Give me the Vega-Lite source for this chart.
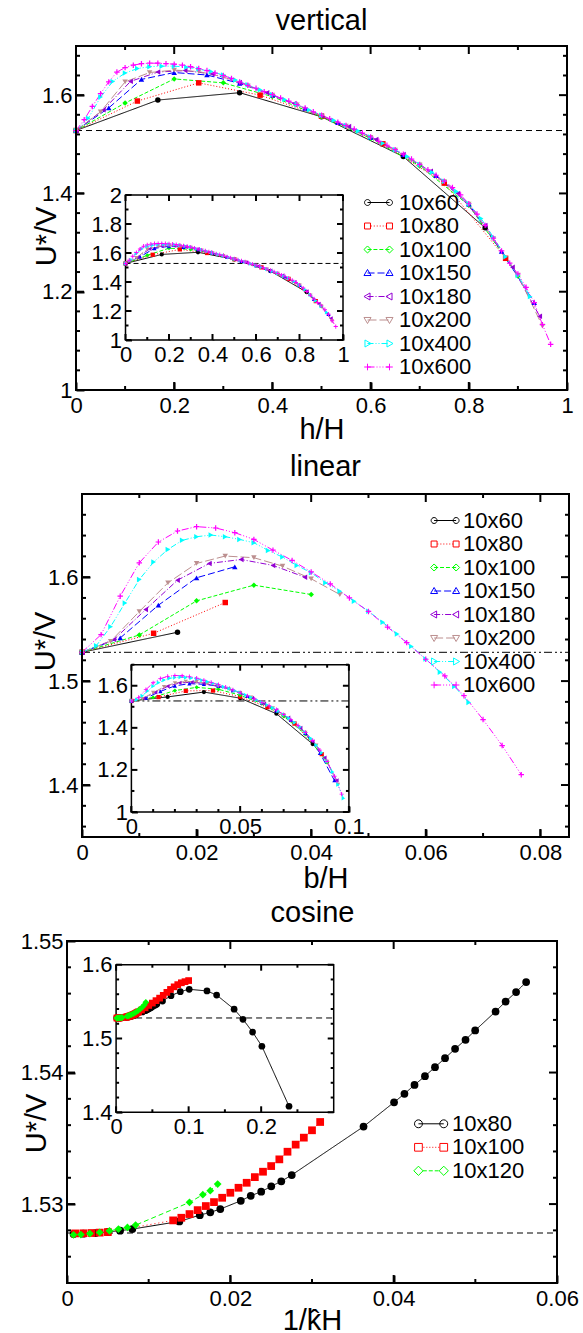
{
"$schema":"https://vega.github.io/schema/vega-lite/v6.json",
"background":"white",
"padding":{"left":20,"top":7,"right":0,"bottom":0},
"config":{
 "font":"Liberation Sans",
 "view":{"stroke":null},
 "axis":{"domain":false,"grid":false,"ticks":true,"labelFontSize":22,"labelColor":"black","labelFlush":false,"labelOverlap":false,"labelBound":false,"titleFontSize":29,"titleFontWeight":"normal","titleColor":"black","tickColor":"black","tickWidth":2,"zindex":2,"format":"~g"},
 "axisY":{"titleAngle":-90,"titleBaseline":"alphabetic","titleAlign":"center"},
 "axisX":{"titleBaseline":"alphabetic"},
 "title":{"fontSize":29,"fontWeight":"normal","color":"black","baseline":"alphabetic"},
 "legend":{"labelFontSize":22,"labelColor":"black","rowPadding":0.5}
},
"datasets":{
"v":[
{"s":"10x60","x":0,"y":1.528},{"s":"10x60","x":0.1667,"y":1.59},{"s":"10x60","x":0.3333,"y":1.605},{"s":"10x60","x":0.5,"y":1.556},{"s":"10x60","x":0.6667,"y":1.475},{"s":"10x60","x":0.8333,"y":1.33},
{"s":"10x80","x":0,"y":1.528},{"s":"10x80","x":0.125,"y":1.588},{"s":"10x80","x":0.25,"y":1.625},{"s":"10x80","x":0.375,"y":1.6},{"s":"10x80","x":0.5,"y":1.557},{"s":"10x80","x":0.625,"y":1.501},{"s":"10x80","x":0.75,"y":1.421},{"s":"10x80","x":0.875,"y":1.268},
{"s":"10x100","x":0,"y":1.528},{"s":"10x100","x":0.1,"y":1.584},{"s":"10x100","x":0.2,"y":1.633},{"s":"10x100","x":0.3,"y":1.625},{"s":"10x100","x":0.4,"y":1.597},{"s":"10x100","x":0.5,"y":1.556},{"s":"10x100","x":0.6,"y":1.512},{"s":"10x100","x":0.7,"y":1.456},{"s":"10x100","x":0.8,"y":1.376},{"s":"10x100","x":0.9,"y":1.232},
{"s":"10x150","x":0,"y":1.528},{"s":"10x150","x":0.0667,"y":1.574},{"s":"10x150","x":0.1333,"y":1.632},{"s":"10x150","x":0.2,"y":1.646},{"s":"10x150","x":0.2667,"y":1.641},{"s":"10x150","x":0.3333,"y":1.624},{"s":"10x150","x":0.4,"y":1.6},{"s":"10x150","x":0.4667,"y":1.573},{"s":"10x150","x":0.5333,"y":1.544},{"s":"10x150","x":0.6,"y":1.514},{"s":"10x150","x":0.6667,"y":1.479},{"s":"10x150","x":0.7333,"y":1.436},{"s":"10x150","x":0.8,"y":1.378},{"s":"10x150","x":0.8667,"y":1.282},{"s":"10x150","x":0.9333,"y":1.178},
{"s":"10x180","x":0,"y":1.528},{"s":"10x180","x":0.0556,"y":1.57},{"s":"10x180","x":0.1111,"y":1.628},{"s":"10x180","x":0.1667,"y":1.647},{"s":"10x180","x":0.2222,"y":1.65},{"s":"10x180","x":0.2778,"y":1.643},{"s":"10x180","x":0.3333,"y":1.626},{"s":"10x180","x":0.3889,"y":1.605},{"s":"10x180","x":0.4444,"y":1.583},{"s":"10x180","x":0.5,"y":1.558},{"s":"10x180","x":0.5556,"y":1.536},{"s":"10x180","x":0.6111,"y":1.51},{"s":"10x180","x":0.6667,"y":1.479},{"s":"10x180","x":0.7222,"y":1.445},{"s":"10x180","x":0.7778,"y":1.4},{"s":"10x180","x":0.8333,"y":1.335},{"s":"10x180","x":0.8889,"y":1.25},{"s":"10x180","x":0.9444,"y":1.15},
{"s":"10x200","x":0,"y":1.528},{"s":"10x200","x":0.05,"y":1.566},{"s":"10x200","x":0.1,"y":1.627},{"s":"10x200","x":0.15,"y":1.646},{"s":"10x200","x":0.2,"y":1.651},{"s":"10x200","x":0.25,"y":1.648},{"s":"10x200","x":0.3,"y":1.637},{"s":"10x200","x":0.35,"y":1.619},{"s":"10x200","x":0.4,"y":1.6},{"s":"10x200","x":0.45,"y":1.58},{"s":"10x200","x":0.5,"y":1.558},{"s":"10x200","x":0.55,"y":1.537},{"s":"10x200","x":0.6,"y":1.514},{"s":"10x200","x":0.65,"y":1.488},{"s":"10x200","x":0.7,"y":1.458},{"s":"10x200","x":0.75,"y":1.424},{"s":"10x200","x":0.8,"y":1.378},{"s":"10x200","x":0.85,"y":1.308},{"s":"10x200","x":0.9,"y":1.234},{"s":"10x200","x":0.95,"y":1.13},
{"s":"10x400","x":0,"y":1.528},{"s":"10x400","x":0.025,"y":1.553},{"s":"10x400","x":0.05,"y":1.596},{"s":"10x400","x":0.075,"y":1.628},{"s":"10x400","x":0.1,"y":1.645},{"s":"10x400","x":0.125,"y":1.654},{"s":"10x400","x":0.15,"y":1.658},{"s":"10x400","x":0.175,"y":1.659},{"s":"10x400","x":0.2,"y":1.659},{"s":"10x400","x":0.225,"y":1.657},{"s":"10x400","x":0.25,"y":1.653},{"s":"10x400","x":0.275,"y":1.648},{"s":"10x400","x":0.3,"y":1.641},{"s":"10x400","x":0.325,"y":1.631},{"s":"10x400","x":0.35,"y":1.621},{"s":"10x400","x":0.375,"y":1.611},{"s":"10x400","x":0.4,"y":1.601},{"s":"10x400","x":0.425,"y":1.591},{"s":"10x400","x":0.45,"y":1.581},{"s":"10x400","x":0.475,"y":1.57},{"s":"10x400","x":0.5,"y":1.559},{"s":"10x400","x":0.525,"y":1.549},{"s":"10x400","x":0.55,"y":1.538},{"s":"10x400","x":0.575,"y":1.527},{"s":"10x400","x":0.6,"y":1.515},{"s":"10x400","x":0.625,"y":1.502},{"s":"10x400","x":0.65,"y":1.489},{"s":"10x400","x":0.675,"y":1.475},{"s":"10x400","x":0.7,"y":1.459},{"s":"10x400","x":0.725,"y":1.443},{"s":"10x400","x":0.75,"y":1.425},{"s":"10x400","x":0.775,"y":1.404},{"s":"10x400","x":0.8,"y":1.379},{"s":"10x400","x":0.825,"y":1.349},{"s":"10x400","x":0.85,"y":1.311},{"s":"10x400","x":0.875,"y":1.271},{"s":"10x400","x":0.9,"y":1.233},{"s":"10x400","x":0.925,"y":1.19},
{"s":"10x600","x":0,"y":1.528},{"s":"10x600","x":0.0167,"y":1.55},{"s":"10x600","x":0.0333,"y":1.577},{"s":"10x600","x":0.05,"y":1.603},{"s":"10x600","x":0.0667,"y":1.627},{"s":"10x600","x":0.0833,"y":1.647},{"s":"10x600","x":0.1,"y":1.656},{"s":"10x600","x":0.1167,"y":1.661},{"s":"10x600","x":0.1333,"y":1.664},{"s":"10x600","x":0.15,"y":1.665},{"s":"10x600","x":0.1667,"y":1.665},{"s":"10x600","x":0.1833,"y":1.664},{"s":"10x600","x":0.2,"y":1.663},{"s":"10x600","x":0.2167,"y":1.661},{"s":"10x600","x":0.2333,"y":1.658},{"s":"10x600","x":0.25,"y":1.654},{"s":"10x600","x":0.2667,"y":1.65},{"s":"10x600","x":0.2833,"y":1.645},{"s":"10x600","x":0.3,"y":1.64},{"s":"10x600","x":0.3167,"y":1.634},{"s":"10x600","x":0.3333,"y":1.627},{"s":"10x600","x":0.35,"y":1.62},{"s":"10x600","x":0.3667,"y":1.614},{"s":"10x600","x":0.3833,"y":1.607},{"s":"10x600","x":0.4,"y":1.601},{"s":"10x600","x":0.4167,"y":1.594},{"s":"10x600","x":0.4333,"y":1.588},{"s":"10x600","x":0.45,"y":1.581},{"s":"10x600","x":0.4667,"y":1.574},{"s":"10x600","x":0.4833,"y":1.566},{"s":"10x600","x":0.5,"y":1.559},{"s":"10x600","x":0.5167,"y":1.552},{"s":"10x600","x":0.5333,"y":1.545},{"s":"10x600","x":0.55,"y":1.538},{"s":"10x600","x":0.5667,"y":1.531},{"s":"10x600","x":0.5833,"y":1.523},{"s":"10x600","x":0.6,"y":1.515},{"s":"10x600","x":0.6167,"y":1.506},{"s":"10x600","x":0.6333,"y":1.498},{"s":"10x600","x":0.65,"y":1.489},{"s":"10x600","x":0.6667,"y":1.48},{"s":"10x600","x":0.6833,"y":1.47},{"s":"10x600","x":0.7,"y":1.459},{"s":"10x600","x":0.7167,"y":1.448},{"s":"10x600","x":0.7333,"y":1.437},{"s":"10x600","x":0.75,"y":1.425},{"s":"10x600","x":0.7667,"y":1.412},{"s":"10x600","x":0.7833,"y":1.397},{"s":"10x600","x":0.8,"y":1.379},{"s":"10x600","x":0.8167,"y":1.358},{"s":"10x600","x":0.8333,"y":1.335},{"s":"10x600","x":0.85,"y":1.309},{"s":"10x600","x":0.8667,"y":1.283},{"s":"10x600","x":0.8833,"y":1.258},{"s":"10x600","x":0.9,"y":1.236},{"s":"10x600","x":0.9167,"y":1.209},{"s":"10x600","x":0.9333,"y":1.178},{"s":"10x600","x":0.95,"y":1.133},{"s":"10x600","x":0.9667,"y":1.093}
],
"l":[
{"s":"10x60","x":0,"y":1.5277,"m":1},{"s":"10x60","x":0.01667,"y":1.547,"m":1},{"s":"10x60","x":0.03333,"y":1.57,"m":0},{"s":"10x60","x":0.05,"y":1.541,"m":0},{"s":"10x60","x":0.06667,"y":1.467,"m":0},{"s":"10x60","x":0.08333,"y":1.323,"m":0},
{"s":"10x80","x":0,"y":1.5277,"m":1},{"s":"10x80","x":0.0125,"y":1.546,"m":1},{"s":"10x80","x":0.025,"y":1.5756,"m":1},{"s":"10x80","x":0.0375,"y":1.577,"m":0},{"s":"10x80","x":0.05,"y":1.548,"m":0},{"s":"10x80","x":0.0625,"y":1.498,"m":0},{"s":"10x80","x":0.075,"y":1.42,"m":0},{"s":"10x80","x":0.0875,"y":1.275,"m":0},
{"s":"10x100","x":0,"y":1.5277,"m":1},{"s":"10x100","x":0.01,"y":1.5444,"m":1},{"s":"10x100","x":0.02,"y":1.5772,"m":1},{"s":"10x100","x":0.03,"y":1.5923,"m":1},{"s":"10x100","x":0.04,"y":1.5833,"m":1},{"s":"10x100","x":0.05,"y":1.555,"m":0},{"s":"10x100","x":0.06,"y":1.515,"m":0},{"s":"10x100","x":0.07,"y":1.455,"m":0},{"s":"10x100","x":0.08,"y":1.37,"m":0},{"s":"10x100","x":0.09,"y":1.235,"m":0},
{"s":"10x150","x":0,"y":1.5277,"m":1},{"s":"10x150","x":0.00667,"y":1.5415,"m":1},{"s":"10x150","x":0.01333,"y":1.573,"m":1},{"s":"10x150","x":0.02,"y":1.5994,"m":1},{"s":"10x150","x":0.02667,"y":1.61,"m":1},{"s":"10x150","x":0.03333,"y":1.607,"m":0},{"s":"10x150","x":0.04,"y":1.598,"m":0},{"s":"10x150","x":0.04667,"y":1.578,"m":0},{"s":"10x150","x":0.05333,"y":1.551,"m":0},{"s":"10x150","x":0.06,"y":1.519,"m":0},{"s":"10x150","x":0.06667,"y":1.482,"m":0},{"s":"10x150","x":0.07333,"y":1.437,"m":0},{"s":"10x150","x":0.08,"y":1.375,"m":0},{"s":"10x150","x":0.08667,"y":1.28,"m":0},{"s":"10x150","x":0.09333,"y":1.15,"m":0},
{"s":"10x180","x":0,"y":1.5277,"m":1},{"s":"10x180","x":0.00556,"y":1.5399,"m":1},{"s":"10x180","x":0.01111,"y":1.5688,"m":1},{"s":"10x180","x":0.01667,"y":1.5971,"m":1},{"s":"10x180","x":0.02222,"y":1.6132,"m":1},{"s":"10x180","x":0.02778,"y":1.617,"m":1},{"s":"10x180","x":0.03333,"y":1.6113,"m":1},{"s":"10x180","x":0.03889,"y":1.6,"m":1},{"s":"10x180","x":0.04444,"y":1.587,"m":0},{"s":"10x180","x":0.05,"y":1.566,"m":0},{"s":"10x180","x":0.05556,"y":1.542,"m":0},{"s":"10x180","x":0.06111,"y":1.515,"m":0},{"s":"10x180","x":0.06667,"y":1.484,"m":0},{"s":"10x180","x":0.07222,"y":1.448,"m":0},{"s":"10x180","x":0.07778,"y":1.4,"m":0},{"s":"10x180","x":0.08333,"y":1.336,"m":0},{"s":"10x180","x":0.08889,"y":1.258,"m":0},{"s":"10x180","x":0.09444,"y":1.15,"m":0},
{"s":"10x200","x":0,"y":1.5277,"m":1},{"s":"10x200","x":0.005,"y":1.5383,"m":1},{"s":"10x200","x":0.01,"y":1.5669,"m":1},{"s":"10x200","x":0.015,"y":1.5945,"m":1},{"s":"10x200","x":0.02,"y":1.6132,"m":1},{"s":"10x200","x":0.025,"y":1.6203,"m":1},{"s":"10x200","x":0.03,"y":1.6187,"m":1},{"s":"10x200","x":0.035,"y":1.6106,"m":1},{"s":"10x200","x":0.04,"y":1.5984,"m":1},{"s":"10x200","x":0.045,"y":1.5833,"m":1},{"s":"10x200","x":0.05,"y":1.566,"m":0},{"s":"10x200","x":0.055,"y":1.545,"m":0},{"s":"10x200","x":0.06,"y":1.52,"m":0},{"s":"10x200","x":0.065,"y":1.494,"m":0},{"s":"10x200","x":0.07,"y":1.462,"m":0},{"s":"10x200","x":0.075,"y":1.424,"m":0},{"s":"10x200","x":0.08,"y":1.377,"m":0},{"s":"10x200","x":0.085,"y":1.317,"m":0},{"s":"10x200","x":0.09,"y":1.239,"m":0},{"s":"10x200","x":0.095,"y":1.13,"m":0},
{"s":"10x400","x":0,"y":1.5277,"m":1},{"s":"10x400","x":0.0025,"y":1.5341,"m":1},{"s":"10x400","x":0.005,"y":1.5524,"m":1},{"s":"10x400","x":0.0075,"y":1.5752,"m":1},{"s":"10x400","x":0.01,"y":1.5977,"m":1},{"s":"10x400","x":0.0125,"y":1.6145,"m":1},{"s":"10x400","x":0.015,"y":1.6267,"m":1},{"s":"10x400","x":0.0175,"y":1.6354,"m":1},{"s":"10x400","x":0.02,"y":1.6389,"m":1},{"s":"10x400","x":0.0225,"y":1.6405,"m":1},{"s":"10x400","x":0.025,"y":1.6389,"m":1},{"s":"10x400","x":0.0275,"y":1.6363,"m":1},{"s":"10x400","x":0.03,"y":1.6331,"m":1},{"s":"10x400","x":0.0325,"y":1.6257,"m":1},{"s":"10x400","x":0.035,"y":1.6193,"m":1},{"s":"10x400","x":0.0375,"y":1.6113,"m":1},{"s":"10x400","x":0.04,"y":1.6042,"m":1},{"s":"10x400","x":0.0425,"y":1.5945,"m":1},{"s":"10x400","x":0.045,"y":1.5865,"m":1},{"s":"10x400","x":0.0475,"y":1.5768,"m":1},{"s":"10x400","x":0.05,"y":1.5672,"m":1},{"s":"10x400","x":0.0525,"y":1.5566,"m":1},{"s":"10x400","x":0.055,"y":1.5453,"m":1},{"s":"10x400","x":0.0575,"y":1.5334,"m":1},{"s":"10x400","x":0.06,"y":1.5212,"m":1},{"s":"10x400","x":0.0625,"y":1.5084,"m":1},{"s":"10x400","x":0.065,"y":1.4949,"m":1},{"s":"10x400","x":0.0675,"y":1.4794,"m":1},{"s":"10x400","x":0.07,"y":1.463,"m":0},{"s":"10x400","x":0.0725,"y":1.445,"m":0},{"s":"10x400","x":0.075,"y":1.425,"m":0},{"s":"10x400","x":0.0775,"y":1.404,"m":0},{"s":"10x400","x":0.08,"y":1.378,"m":0},{"s":"10x400","x":0.0825,"y":1.35,"m":0},{"s":"10x400","x":0.085,"y":1.318,"m":0},{"s":"10x400","x":0.0875,"y":1.282,"m":0},{"s":"10x400","x":0.09,"y":1.24,"m":0},{"s":"10x400","x":0.0925,"y":1.19,"m":0},{"s":"10x400","x":0.095,"y":1.13,"m":0},{"s":"10x400","x":0.0975,"y":1.065,"m":0},
{"s":"10x600","x":0,"y":1.5277,"m":1},{"s":"10x600","x":0.00333,"y":1.5447,"m":1},{"s":"10x600","x":0.00667,"y":1.5817,"m":1},{"s":"10x600","x":0.01,"y":1.6138,"m":1},{"s":"10x600","x":0.01333,"y":1.6338,"m":1},{"s":"10x600","x":0.01667,"y":1.6444,"m":1},{"s":"10x600","x":0.02,"y":1.6486,"m":1},{"s":"10x600","x":0.02333,"y":1.6473,"m":1},{"s":"10x600","x":0.02667,"y":1.6428,"m":1},{"s":"10x600","x":0.03,"y":1.6363,"m":1},{"s":"10x600","x":0.03333,"y":1.626,"m":1},{"s":"10x600","x":0.03667,"y":1.6161,"m":1},{"s":"10x600","x":0.04,"y":1.605,"m":1},{"s":"10x600","x":0.04333,"y":1.5935,"m":1},{"s":"10x600","x":0.04667,"y":1.58,"m":1},{"s":"10x600","x":0.05,"y":1.567,"m":1},{"s":"10x600","x":0.05333,"y":1.552,"m":1},{"s":"10x600","x":0.05667,"y":1.537,"m":1},{"s":"10x600","x":0.06,"y":1.521,"m":1},{"s":"10x600","x":0.06333,"y":1.505,"m":1},{"s":"10x600","x":0.06667,"y":1.486,"m":1},{"s":"10x600","x":0.07,"y":1.463,"m":1},{"s":"10x600","x":0.07333,"y":1.438,"m":1},{"s":"10x600","x":0.07667,"y":1.41,"m":1},{"s":"10x600","x":0.08,"y":1.378,"m":0},{"s":"10x600","x":0.08333,"y":1.34,"m":0},{"s":"10x600","x":0.08667,"y":1.294,"m":0},{"s":"10x600","x":0.09,"y":1.24,"m":0},{"s":"10x600","x":0.09333,"y":1.17,"m":0},{"s":"10x600","x":0.09667,"y":1.085,"m":0}
],
"c":[
{"s":"10x80","x":0.0008,"y":1.52772,"m":1},{"s":"10x80","x":0.002,"y":1.52775,"m":1},{"s":"10x80","x":0.0035,"y":1.5278,"m":1},{"s":"10x80","x":0.005,"y":1.52788,"m":1},{"s":"10x80","x":0.0065,"y":1.52798,"m":1},{"s":"10x80","x":0.008,"y":1.5281,"m":1},{"s":"10x80","x":0.01376,"y":1.52868,"m":1},{"s":"10x80","x":0.01626,"y":1.52916,"m":1},{"s":"10x80","x":0.01754,"y":1.52937,"m":1},{"s":"10x80","x":0.01877,"y":1.52962,"m":1},{"s":"10x80","x":0.02128,"y":1.53025,"m":1},{"s":"10x80","x":0.0225,"y":1.53063,"m":1},{"s":"10x80","x":0.02378,"y":1.53094,"m":1},{"s":"10x80","x":0.02501,"y":1.53135,"m":1},{"s":"10x80","x":0.02624,"y":1.53173,"m":1},{"s":"10x80","x":0.02752,"y":1.53221,"m":1},{"s":"10x80","x":0.03631,"y":1.53589,"m":1},{"s":"10x80","x":0.04005,"y":1.53774,"m":1},{"s":"10x80","x":0.04132,"y":1.53838,"m":1},{"s":"10x80","x":0.04255,"y":1.53906,"m":1},{"s":"10x80","x":0.04383,"y":1.53972,"m":1},{"s":"10x80","x":0.04506,"y":1.54041,"m":1},{"s":"10x80","x":0.04629,"y":1.54109,"m":1},{"s":"10x80","x":0.04752,"y":1.5418,"m":1},{"s":"10x80","x":0.0488,"y":1.54249,"m":1},{"s":"10x80","x":0.04998,"y":1.5432,"m":1},{"s":"10x80","x":0.05248,"y":1.54464,"m":1},{"s":"10x80","x":0.05371,"y":1.5454,"m":1},{"s":"10x80","x":0.05499,"y":1.54612,"m":1},{"s":"10x80","x":0.05622,"y":1.54688,"m":1},
{"s":"10x80","x":0.064,"y":1.5507,"m":0},{"s":"10x80","x":0.0757,"y":1.558,"m":0},{"s":"10x80","x":0.0885,"y":1.5635,"m":0},{"s":"10x80","x":0.1008,"y":1.5667,"m":0},{"s":"10x80","x":0.1253,"y":1.5644,"m":0},{"s":"10x80","x":0.1386,"y":1.5589,"m":0},{"s":"10x80","x":0.1627,"y":1.5397,"m":0},{"s":"10x80","x":0.1749,"y":1.526,"m":0},{"s":"10x80","x":0.1882,"y":1.5087,"m":0},{"s":"10x80","x":0.201,"y":1.4895,"m":0},{"s":"10x80","x":0.2384,"y":1.4082,"m":0},
{"s":"10x100","x":0.001,"y":1.52777,"m":1},{"s":"10x100","x":0.002,"y":1.52778,"m":1},{"s":"10x100","x":0.003,"y":1.5278,"m":1},{"s":"10x100","x":0.004,"y":1.52783,"m":1},{"s":"10x100","x":0.005,"y":1.52787,"m":1},{"s":"10x100","x":0.013,"y":1.52876,"m":1},{"s":"10x100","x":0.014,"y":1.52896,"m":1},{"s":"10x100","x":0.015,"y":1.52924,"m":1},{"s":"10x100","x":0.016,"y":1.52954,"m":1},{"s":"10x100","x":0.017,"y":1.52985,"m":1},{"s":"10x100","x":0.018,"y":1.53015,"m":1},{"s":"10x100","x":0.019,"y":1.53048,"m":1},{"s":"10x100","x":0.02,"y":1.53086,"m":1},{"s":"10x100","x":0.021,"y":1.53124,"m":1},{"s":"10x100","x":0.022,"y":1.53162,"m":1},{"s":"10x100","x":0.023,"y":1.53205,"m":1},{"s":"10x100","x":0.024,"y":1.53246,"m":1},{"s":"10x100","x":0.025,"y":1.53289,"m":1},{"s":"10x100","x":0.026,"y":1.5334,"m":1},{"s":"10x100","x":0.027,"y":1.53398,"m":1},{"s":"10x100","x":0.028,"y":1.53452,"m":1},{"s":"10x100","x":0.029,"y":1.53505,"m":1},{"s":"10x100","x":0.03,"y":1.53561,"m":1},{"s":"10x100","x":0.031,"y":1.53624,"m":1},
{"s":"10x100","x":0.035,"y":1.5385,"m":0},{"s":"10x100","x":0.04,"y":1.5415,"m":0},{"s":"10x100","x":0.045,"y":1.5448,"m":0},{"s":"10x100","x":0.05,"y":1.548,"m":0},{"s":"10x100","x":0.055,"y":1.5513,"m":0},{"s":"10x100","x":0.06,"y":1.5547,"m":0},{"s":"10x100","x":0.065,"y":1.5585,"m":0},{"s":"10x100","x":0.07,"y":1.5625,"m":0},{"s":"10x100","x":0.075,"y":1.5665,"m":0},{"s":"10x100","x":0.08,"y":1.57,"m":0},{"s":"10x100","x":0.085,"y":1.573,"m":0},{"s":"10x100","x":0.09,"y":1.5755,"m":0},{"s":"10x100","x":0.095,"y":1.577,"m":0},{"s":"10x100","x":0.1,"y":1.5785,"m":0},
{"s":"10x120","x":0.0008,"y":1.52766,"m":1},{"s":"10x120","x":0.0017,"y":1.52768,"m":1},{"s":"10x120","x":0.0028,"y":1.52776,"m":1},{"s":"10x120","x":0.004,"y":1.52784,"m":1},{"s":"10x120","x":0.0052,"y":1.52797,"m":1},{"s":"10x120","x":0.0063,"y":1.5281,"m":1},{"s":"10x120","x":0.0074,"y":1.52822,"m":1},{"s":"10x120","x":0.0084,"y":1.5284,"m":1},{"s":"10x120","x":0.015,"y":1.53013,"m":1},{"s":"10x120","x":0.01663,"y":1.53071,"m":1},{"s":"10x120","x":0.01754,"y":1.53102,"m":1},{"s":"10x120","x":0.01845,"y":1.53152,"m":1},
{"s":"10x120","x":0.021,"y":1.5324,"m":0},{"s":"10x120","x":0.024,"y":1.5338,"m":0},{"s":"10x120","x":0.027,"y":1.5355,"m":0},{"s":"10x120","x":0.03,"y":1.5375,"m":0},{"s":"10x120","x":0.033,"y":1.5398,"m":0},{"s":"10x120","x":0.036,"y":1.5425,"m":0},{"s":"10x120","x":0.039,"y":1.5455,"m":0},{"s":"10x120","x":0.041,"y":1.549,"m":0}
]
},
"spacing":104,
"bounds":"flush",
"resolve":{"scale":{"x":"independent","y":"independent","fill":"independent","color":"independent","shape":"independent","stroke":"independent","strokeDash":"independent"},"legend":{"fill":"independent","color":"independent","shape":"independent","stroke":"independent","strokeDash":"independent"}},
"vconcat":[
{
"width":502,"height":344,
"title":{"text":"vertical","offset":9,"dx":3.5},
"resolve":{"scale":{"x":"independent","y":"independent","fill":"independent","color":"independent","shape":"independent","stroke":"independent","strokeDash":"independent"},"axis":{"x":"independent","y":"independent"},"legend":{"fill":"independent","color":"independent","shape":"independent","stroke":"independent","strokeDash":"independent"}},
"layer":[
 {"data":{"name":"v"},"layer":[
  {"data":{"values":[{}]},"mark":{"type":"rule","color":"black","strokeWidth":1,"strokeDash":[6,4]},"encoding":{"x":{"datum":0,"type":"quantitative"},"x2":{"datum":1},"y":{"datum":1.528,"type":"quantitative"}}},
  {"mark":{"type":"line","strokeWidth":1},"encoding":{
   "x":{"field":"x","type":"quantitative","scale":{"domain":[0,1],"range":[9,500],"nice":false,"zero":false},"axis":{"orient":"bottom","offset":-8,"tickSize":8,"labelPadding":5,"title":"h/H","titleY":56,"values":[0,0.2,0.4,0.6,0.8,1]}},
   "y":{"field":"y","type":"quantitative","scale":{"domain":[1,1.7],"nice":false,"zero":false},"axis":{"orient":"left","offset":-17,"tickSize":8,"labelPadding":4,"title":"U*/V","titleX":-29,"titleY":190,"values":[1,1.2,1.4,1.6]}},
   "stroke":{"field":"s","type":"nominal","scale":{"domain":["10x60","10x80","10x100","10x150","10x180","10x200","10x400","10x600"],"range":["#000000","#ff0000","#00ff00","#0000ff","#9400d3","#bc8f8f","#00ffff","#ff00ff"]},"legend":null},
   "strokeDash":{"field":"s","type":"nominal","scale":{"domain":["10x60","10x80","10x100","10x150","10x180","10x200","10x400","10x600"],"range":[[1,0],[1,2],[4,2],[7,3],[6,2,1,2],[9,3],[6,2,1,2,1,2],[7,2,1,2,1,2,1,2]]},"legend":null}
  }},
  {"mark":{"type":"point","filled":true,"size":30,"opacity":1},"encoding":{
   "x":{"field":"x","type":"quantitative"},
   "y":{"field":"y","type":"quantitative"},
   "color":{"field":"s","type":"nominal","scale":{"domain":["10x60","10x80","10x100","10x150","10x180","10x200","10x400","10x600"],"range":["#000000","#ff0000","#00ff00","#0000ff","#9400d3","#bc8f8f","#00ffff","#ff00ff"]},"legend":null},
   "shape":{"field":"s","type":"nominal","scale":{"domain":["10x60","10x80","10x100","10x150","10x180","10x200","10x400","10x600"],"range":["circle","square","diamond","triangle-up","triangle-left","triangle-down","triangle-right","M-1,-0.22H-0.22V-1H0.22V-0.22H1V0.22H0.22V1H-0.22V0.22H-1Z"]},"legend":null}
  }},
  {"data":{"values":[{}]},"mark":{"type":"rect","filled":false,"stroke":"black","strokeWidth":2},"encoding":{"x":{"datum":0,"type":"quantitative"},"x2":{"datum":1},"y":{"datum":1,"type":"quantitative"},"y2":{"datum":1.7}}},
  {"data":{"values":[{"t":0},{"t":0.2},{"t":0.4},{"t":0.6},{"t":0.8},{"t":1}]},"mark":{"type":"rule","color":"black","strokeWidth":2,"y2Offset":-8},"encoding":{"x":{"field":"t","type":"quantitative"},"y":{"datum":1,"type":"quantitative"},"y2":{"datum":1}}},
  {"data":{"values":[{"t":0},{"t":0.2},{"t":0.4},{"t":0.6},{"t":0.8},{"t":1}]},"mark":{"type":"rule","color":"black","strokeWidth":2,"y2Offset":8},"encoding":{"x":{"field":"t","type":"quantitative"},"y":{"datum":1.7,"type":"quantitative"},"y2":{"datum":1.7}}},
  {"data":{"values":[{"t":0.1},{"t":0.3},{"t":0.5},{"t":0.7},{"t":0.9}]},"mark":{"type":"rule","color":"black","strokeWidth":2,"y2Offset":-4},"encoding":{"x":{"field":"t","type":"quantitative"},"y":{"datum":1,"type":"quantitative"},"y2":{"datum":1}}},
  {"data":{"values":[{"t":0.1},{"t":0.3},{"t":0.5},{"t":0.7},{"t":0.9}]},"mark":{"type":"rule","color":"black","strokeWidth":2,"y2Offset":4},"encoding":{"x":{"field":"t","type":"quantitative"},"y":{"datum":1.7,"type":"quantitative"},"y2":{"datum":1.7}}},
  {"data":{"values":[{"t":1},{"t":1.2},{"t":1.4},{"t":1.6}]},"mark":{"type":"rule","color":"black","strokeWidth":2,"x2Offset":8},"encoding":{"y":{"field":"t","type":"quantitative"},"x":{"datum":0,"type":"quantitative"},"x2":{"datum":0}}},
  {"data":{"values":[{"t":1},{"t":1.2},{"t":1.4},{"t":1.6}]},"mark":{"type":"rule","color":"black","strokeWidth":2,"x2Offset":-8},"encoding":{"y":{"field":"t","type":"quantitative"},"x":{"datum":1,"type":"quantitative"},"x2":{"datum":1}}},
  {"data":{"values":[{"t":1.04},{"t":1.08},{"t":1.12},{"t":1.16},{"t":1.24},{"t":1.28},{"t":1.32},{"t":1.36},{"t":1.44},{"t":1.48},{"t":1.52},{"t":1.56},{"t":1.64},{"t":1.68}]},"mark":{"type":"rule","color":"black","strokeWidth":2,"x2Offset":4},"encoding":{"y":{"field":"t","type":"quantitative"},"x":{"datum":0,"type":"quantitative"},"x2":{"datum":0}}},
  {"data":{"values":[{"t":1.04},{"t":1.08},{"t":1.12},{"t":1.16},{"t":1.24},{"t":1.28},{"t":1.32},{"t":1.36},{"t":1.44},{"t":1.48},{"t":1.52},{"t":1.56},{"t":1.64},{"t":1.68}]},"mark":{"type":"rule","color":"black","strokeWidth":2,"x2Offset":-4},"encoding":{"y":{"field":"t","type":"quantitative"},"x":{"datum":1,"type":"quantitative"},"x2":{"datum":1}}}
 ]},
 {"data":{"name":"v"},"layer":[
  {"data":{"values":[{}]},"mark":{"type":"rect","fill":"white","stroke":"black","strokeWidth":1.5},"encoding":{"x":{"datum":0,"type":"quantitative"},"x2":{"datum":1},"y":{"datum":1,"type":"quantitative"},"y2":{"datum":2}}},
  {"data":{"values":[{}]},"mark":{"type":"rule","color":"black","strokeWidth":1,"strokeDash":[5,3]},"encoding":{"x":{"datum":0,"type":"quantitative"},"x2":{"datum":1},"y":{"datum":1.528,"type":"quantitative"}}},
  {"mark":{"type":"line","strokeWidth":1},"encoding":{
   "x":{"field":"x","type":"quantitative","scale":{"domain":[0,1],"range":[58.5,276],"nice":false,"zero":false},"axis":{"orient":"bottom","offset":-56,"tickSize":6,"labelPadding":4,"title":null,"values":[0,0.2,0.4,0.6,0.8,1]}},
   "y":{"field":"y","type":"quantitative","scale":{"domain":[1,2],"range":[294,149],"nice":false,"zero":false},"axis":{"orient":"left","offset":-64.5,"tickSize":6,"labelPadding":4,"title":null,"values":[1,1.2,1.4,1.6,1.8,2]}},
   "stroke":{"field":"s","type":"nominal","scale":{"domain":["10x60","10x80","10x100","10x150","10x180","10x200","10x400","10x600"],"range":["#000000","#ff0000","#00ff00","#0000ff","#9400d3","#bc8f8f","#00ffff","#ff00ff"]},"legend":null},
   "strokeDash":{"field":"s","type":"nominal","scale":{"domain":["10x60","10x80","10x100","10x150","10x180","10x200","10x400","10x600"],"range":[[1,0],[1,2],[4,2],[7,3],[6,2,1,2],[9,3],[6,2,1,2,1,2],[7,2,1,2,1,2,1,2]]},"legend":null}
  }},
  {"mark":{"type":"point","filled":true,"size":18,"opacity":1},"encoding":{
   "x":{"field":"x","type":"quantitative"},
   "y":{"field":"y","type":"quantitative"},
   "color":{"field":"s","type":"nominal","scale":{"domain":["10x60","10x80","10x100","10x150","10x180","10x200","10x400","10x600"],"range":["#000000","#ff0000","#00ff00","#0000ff","#9400d3","#bc8f8f","#00ffff","#ff00ff"]},"legend":null},
   "shape":{"field":"s","type":"nominal","scale":{"domain":["10x60","10x80","10x100","10x150","10x180","10x200","10x400","10x600"],"range":["circle","square","diamond","triangle-up","triangle-left","triangle-down","triangle-right","M-1,-0.22H-0.22V-1H0.22V-0.22H1V0.22H0.22V1H-0.22V0.22H-1Z"]},"legend":null}
  }},
  {"data":{"values":[{"t":0},{"t":0.2},{"t":0.4},{"t":0.6},{"t":0.8},{"t":1}]},"mark":{"type":"rule","color":"black","strokeWidth":2,"y2Offset":-6},"encoding":{"x":{"field":"t","type":"quantitative"},"y":{"datum":1,"type":"quantitative"},"y2":{"datum":1}}},
  {"data":{"values":[{"t":0},{"t":0.2},{"t":0.4},{"t":0.6},{"t":0.8},{"t":1}]},"mark":{"type":"rule","color":"black","strokeWidth":2,"y2Offset":6},"encoding":{"x":{"field":"t","type":"quantitative"},"y":{"datum":2,"type":"quantitative"},"y2":{"datum":2}}},
  {"data":{"values":[{"t":0.1},{"t":0.3},{"t":0.5},{"t":0.7},{"t":0.9}]},"mark":{"type":"rule","color":"black","strokeWidth":2,"y2Offset":-3},"encoding":{"x":{"field":"t","type":"quantitative"},"y":{"datum":1,"type":"quantitative"},"y2":{"datum":1}}},
  {"data":{"values":[{"t":0.1},{"t":0.3},{"t":0.5},{"t":0.7},{"t":0.9}]},"mark":{"type":"rule","color":"black","strokeWidth":2,"y2Offset":3},"encoding":{"x":{"field":"t","type":"quantitative"},"y":{"datum":2,"type":"quantitative"},"y2":{"datum":2}}},
  {"data":{"values":[{"t":1},{"t":1.2},{"t":1.4},{"t":1.6},{"t":1.8},{"t":2}]},"mark":{"type":"rule","color":"black","strokeWidth":2,"x2Offset":6},"encoding":{"y":{"field":"t","type":"quantitative"},"x":{"datum":0,"type":"quantitative"},"x2":{"datum":0}}},
  {"data":{"values":[{"t":1},{"t":1.2},{"t":1.4},{"t":1.6},{"t":1.8},{"t":2}]},"mark":{"type":"rule","color":"black","strokeWidth":2,"x2Offset":-6},"encoding":{"y":{"field":"t","type":"quantitative"},"x":{"datum":1,"type":"quantitative"},"x2":{"datum":1}}},
  {"data":{"values":[{"t":1.1},{"t":1.3},{"t":1.5},{"t":1.7},{"t":1.9}]},"mark":{"type":"rule","color":"black","strokeWidth":2,"x2Offset":3},"encoding":{"y":{"field":"t","type":"quantitative"},"x":{"datum":0,"type":"quantitative"},"x2":{"datum":0}}},
  {"data":{"values":[{"t":1.1},{"t":1.3},{"t":1.5},{"t":1.7},{"t":1.9}]},"mark":{"type":"rule","color":"black","strokeWidth":2,"x2Offset":-3},"encoding":{"y":{"field":"t","type":"quantitative"},"x":{"datum":1,"type":"quantitative"},"x2":{"datum":1}}}
 ]},
 {"data":{"name":"v"},"mark":{"type":"point","filled":true,"opacity":0},"encoding":{
  "fill":{"field":"s","type":"nominal","scale":{"domain":["10x60","10x80","10x100","10x150","10x180","10x200","10x400","10x600"],"range":["#000000","#ff0000","#00ff00","#0000ff","#9400d3","#bc8f8f","#00ffff","#ff00ff"]},"legend":{"orient":"none","legendX":300,"legendY":145,"title":null,"symbolSize":484,"symbolOpacity":1,"symbolStrokeWidth":1,"labelOffset":9}},
  "stroke":{"field":"s","type":"nominal","scale":{"domain":["10x60","10x80","10x100","10x150","10x180","10x200","10x400","10x600"],"range":["#000000","#ff0000","#00ff00","#0000ff","#9400d3","#bc8f8f","#00ffff","#ff00ff"]}},
  "shape":{"field":"s","type":"nominal","scale":{"domain":["10x60","10x80","10x100","10x150","10x180","10x200","10x400","10x600"],"range":["M-1,0H1M-1.27,0a0.27,0.27 0 1,0 0.54,0a0.27,0.27 0 1,0 -0.54,0ZM0.73,0a0.27,0.27 0 1,0 0.54,0a0.27,0.27 0 1,0 -0.54,0Z","M-0.7,0H-0.61M-0.43,0H-0.34M-0.16,0H-0.07M0.11,0H0.2M0.38,0H0.47M0.65,0H0.73M-1.27,-0.27h0.54v0.54h-0.54ZM0.73,-0.27h0.54v0.54h-0.54Z","M-1,0H-0.64M-0.46,0H-0.1M0.08,0H0.44M0.62,0H1M-1,-0.32l0.32,0.32l-0.32,0.32l-0.32,-0.32ZM1,-0.32l0.32,0.32l-0.32,0.32l-0.32,-0.32Z","M-1,0H-0.36M-0.09,0H0.55M0.82,0H1M-1,-0.32l0.32,0.55h-0.64ZM1,-0.32l0.32,0.55h-0.64Z","M-1,0H-0.45M-0.27,0H-0.18M0,0H0.55M0.73,0H0.82M-1.32,0l0.55,-0.32v0.64ZM0.68,0l0.55,-0.32v0.64Z","M-1,0H-0.18M0.09,0H0.91M-1,0.32l0.32,-0.55h-0.64ZM1,0.32l0.32,-0.55h-0.64Z","M-1,0H-0.45M-0.27,0H-0.18M0,0H0.09M0.27,0H0.82M-0.68,0l-0.55,-0.32v0.64ZM1.32,0l-0.55,-0.32v0.64Z","M-1,0H-0.36M-0.18,0H-0.09M0.09,0H0.18M0.36,0H0.45M0.64,0H1M-1.3,0H-0.7M-1,-0.3V0.3M0.7,0H1.3M1,-0.3V0.3"]}}
 }}
]
},
{
"width":502,"height":343,
"title":{"text":"linear","offset":11,"dx":7.5},
"resolve":{"scale":{"x":"independent","y":"independent","fill":"independent","color":"independent","shape":"independent","stroke":"independent","strokeDash":"independent"},"axis":{"x":"independent","y":"independent"},"legend":{"fill":"independent","color":"independent","shape":"independent","stroke":"independent","strokeDash":"independent"}},
"layer":[
 {"data":{"name":"l"},"layer":[
  {"data":{"values":[{}]},"mark":{"type":"rule","color":"black","strokeWidth":1,"strokeDash":[8,3,2,3,2,3]},"encoding":{"x":{"datum":0,"type":"quantitative"},"x2":{"datum":0.085},"y":{"datum":1.5277,"type":"quantitative"}}},
  {"transform":[{"filter":"datum.m==1"}],"mark":{"type":"line","strokeWidth":1},"encoding":{
   "x":{"field":"x","type":"quantitative","scale":{"domain":[0,0.085],"range":[15,502],"nice":false,"zero":false},"axis":{"orient":"bottom","offset":-8,"tickSize":8,"labelPadding":5,"title":"b/H","titleY":58,"values":[0,0.02,0.04,0.06,0.08]}},
   "y":{"field":"y","type":"quantitative","scale":{"domain":[1.35,1.68],"nice":false,"zero":false},"axis":{"orient":"left","offset":-23,"tickSize":8,"labelPadding":4,"title":"U*/V","titleX":-35.2,"titleY":147,"values":[1.4,1.5,1.6]}},
   "stroke":{"field":"s","type":"nominal","scale":{"domain":["10x60","10x80","10x100","10x150","10x180","10x200","10x400","10x600"],"range":["#000000","#ff0000","#00ff00","#0000ff","#9400d3","#bc8f8f","#00ffff","#ff00ff"]},"legend":null},
   "strokeDash":{"field":"s","type":"nominal","scale":{"domain":["10x60","10x80","10x100","10x150","10x180","10x200","10x400","10x600"],"range":[[1,0],[1,2],[4,2],[7,3],[6,2,1,2],[9,3],[6,2,1,2,1,2],[7,2,1,2,1,2,1,2]]},"legend":null}
  }},
  {"transform":[{"filter":"datum.m==1"}],"mark":{"type":"point","filled":true,"size":30,"opacity":1},"encoding":{
   "x":{"field":"x","type":"quantitative"},
   "y":{"field":"y","type":"quantitative"},
   "color":{"field":"s","type":"nominal","scale":{"domain":["10x60","10x80","10x100","10x150","10x180","10x200","10x400","10x600"],"range":["#000000","#ff0000","#00ff00","#0000ff","#9400d3","#bc8f8f","#00ffff","#ff00ff"]},"legend":null},
   "shape":{"field":"s","type":"nominal","scale":{"domain":["10x60","10x80","10x100","10x150","10x180","10x200","10x400","10x600"],"range":["circle","square","diamond","triangle-up","triangle-left","triangle-down","triangle-right","M-1,-0.22H-0.22V-1H0.22V-0.22H1V0.22H0.22V1H-0.22V0.22H-1Z"]},"legend":null}
  }},
  {"data":{"values":[{}]},"mark":{"type":"rect","filled":false,"stroke":"black","strokeWidth":2},"encoding":{"x":{"datum":0,"type":"quantitative"},"x2":{"datum":0.085},"y":{"datum":1.35,"type":"quantitative"},"y2":{"datum":1.68}}},
  {"data":{"values":[{"t":0},{"t":0.02},{"t":0.04},{"t":0.06},{"t":0.08}]},"mark":{"type":"rule","color":"black","strokeWidth":2,"y2Offset":-8},"encoding":{"x":{"field":"t","type":"quantitative"},"y":{"datum":1.35,"type":"quantitative"},"y2":{"datum":1.35}}},
  {"data":{"values":[{"t":0},{"t":0.02},{"t":0.04},{"t":0.06},{"t":0.08}]},"mark":{"type":"rule","color":"black","strokeWidth":2,"y2Offset":8},"encoding":{"x":{"field":"t","type":"quantitative"},"y":{"datum":1.68,"type":"quantitative"},"y2":{"datum":1.68}}},
  {"data":{"values":[{"t":0.01},{"t":0.03},{"t":0.05},{"t":0.07}]},"mark":{"type":"rule","color":"black","strokeWidth":2,"y2Offset":-4},"encoding":{"x":{"field":"t","type":"quantitative"},"y":{"datum":1.35,"type":"quantitative"},"y2":{"datum":1.35}}},
  {"data":{"values":[{"t":0.01},{"t":0.03},{"t":0.05},{"t":0.07}]},"mark":{"type":"rule","color":"black","strokeWidth":2,"y2Offset":4},"encoding":{"x":{"field":"t","type":"quantitative"},"y":{"datum":1.68,"type":"quantitative"},"y2":{"datum":1.68}}},
  {"data":{"values":[{"t":1.4},{"t":1.5},{"t":1.6}]},"mark":{"type":"rule","color":"black","strokeWidth":2,"x2Offset":8},"encoding":{"y":{"field":"t","type":"quantitative"},"x":{"datum":0,"type":"quantitative"},"x2":{"datum":0}}},
  {"data":{"values":[{"t":1.4},{"t":1.5},{"t":1.6}]},"mark":{"type":"rule","color":"black","strokeWidth":2,"x2Offset":-8},"encoding":{"y":{"field":"t","type":"quantitative"},"x":{"datum":0.085,"type":"quantitative"},"x2":{"datum":0.085}}},
  {"data":{"values":[{"t":1.36},{"t":1.38},{"t":1.42},{"t":1.44},{"t":1.46},{"t":1.48},{"t":1.52},{"t":1.54},{"t":1.56},{"t":1.58},{"t":1.62},{"t":1.64},{"t":1.66}]},"mark":{"type":"rule","color":"black","strokeWidth":2,"x2Offset":4},"encoding":{"y":{"field":"t","type":"quantitative"},"x":{"datum":0,"type":"quantitative"},"x2":{"datum":0}}},
  {"data":{"values":[{"t":1.36},{"t":1.38},{"t":1.42},{"t":1.44},{"t":1.46},{"t":1.48},{"t":1.52},{"t":1.54},{"t":1.56},{"t":1.58},{"t":1.62},{"t":1.64},{"t":1.66}]},"mark":{"type":"rule","color":"black","strokeWidth":2,"x2Offset":-4},"encoding":{"y":{"field":"t","type":"quantitative"},"x":{"datum":0.085,"type":"quantitative"},"x2":{"datum":0.085}}}
 ]},
 {"data":{"name":"l"},"layer":[
  {"data":{"values":[{}]},"mark":{"type":"rect","fill":"white","stroke":"black","strokeWidth":1.5},"encoding":{"x":{"datum":0,"type":"quantitative"},"x2":{"datum":0.1},"y":{"datum":1,"type":"quantitative"},"y2":{"datum":1.7}}},
  {"data":{"values":[{}]},"mark":{"type":"rule","color":"black","strokeWidth":1,"strokeDash":[8,3,2,3,2,3]},"encoding":{"x":{"datum":0,"type":"quantitative"},"x2":{"datum":0.1},"y":{"datum":1.5277,"type":"quantitative"}}},
  {"mark":{"type":"line","strokeWidth":1},"encoding":{
   "x":{"field":"x","type":"quantitative","scale":{"domain":[0,0.1],"range":[64.4,281.9],"nice":false,"zero":false},"axis":{"orient":"bottom","offset":-31,"tickSize":6,"labelPadding":4,"title":null,"values":[0,0.05,0.1]}},
   "y":{"field":"y","type":"quantitative","scale":{"domain":[1,1.7],"range":[318,170.7],"nice":false,"zero":false},"axis":{"orient":"left","offset":-70.4,"tickSize":6,"labelPadding":4,"title":null,"values":[1,1.2,1.4,1.6]}},
   "stroke":{"field":"s","type":"nominal","scale":{"domain":["10x60","10x80","10x100","10x150","10x180","10x200","10x400","10x600"],"range":["#000000","#ff0000","#00ff00","#0000ff","#9400d3","#bc8f8f","#00ffff","#ff00ff"]},"legend":null},
   "strokeDash":{"field":"s","type":"nominal","scale":{"domain":["10x60","10x80","10x100","10x150","10x180","10x200","10x400","10x600"],"range":[[1,0],[1,2],[4,2],[7,3],[6,2,1,2],[9,3],[6,2,1,2,1,2],[7,2,1,2,1,2,1,2]]},"legend":null}
  }},
  {"mark":{"type":"point","filled":true,"size":18,"opacity":1},"encoding":{
   "x":{"field":"x","type":"quantitative"},
   "y":{"field":"y","type":"quantitative"},
   "color":{"field":"s","type":"nominal","scale":{"domain":["10x60","10x80","10x100","10x150","10x180","10x200","10x400","10x600"],"range":["#000000","#ff0000","#00ff00","#0000ff","#9400d3","#bc8f8f","#00ffff","#ff00ff"]},"legend":null},
   "shape":{"field":"s","type":"nominal","scale":{"domain":["10x60","10x80","10x100","10x150","10x180","10x200","10x400","10x600"],"range":["circle","square","diamond","triangle-up","triangle-left","triangle-down","triangle-right","M-1,-0.22H-0.22V-1H0.22V-0.22H1V0.22H0.22V1H-0.22V0.22H-1Z"]},"legend":null}
  }},
  {"data":{"values":[{"t":0},{"t":0.05},{"t":0.1}]},"mark":{"type":"rule","color":"black","strokeWidth":2,"y2Offset":-6},"encoding":{"x":{"field":"t","type":"quantitative"},"y":{"datum":1,"type":"quantitative"},"y2":{"datum":1}}},
  {"data":{"values":[{"t":0},{"t":0.05},{"t":0.1}]},"mark":{"type":"rule","color":"black","strokeWidth":2,"y2Offset":6},"encoding":{"x":{"field":"t","type":"quantitative"},"y":{"datum":1.7,"type":"quantitative"},"y2":{"datum":1.7}}},
  {"data":{"values":[{"t":0.01},{"t":0.02},{"t":0.03},{"t":0.04},{"t":0.06},{"t":0.07},{"t":0.08},{"t":0.09}]},"mark":{"type":"rule","color":"black","strokeWidth":2,"y2Offset":-3},"encoding":{"x":{"field":"t","type":"quantitative"},"y":{"datum":1,"type":"quantitative"},"y2":{"datum":1}}},
  {"data":{"values":[{"t":0.01},{"t":0.02},{"t":0.03},{"t":0.04},{"t":0.06},{"t":0.07},{"t":0.08},{"t":0.09}]},"mark":{"type":"rule","color":"black","strokeWidth":2,"y2Offset":3},"encoding":{"x":{"field":"t","type":"quantitative"},"y":{"datum":1.7,"type":"quantitative"},"y2":{"datum":1.7}}},
  {"data":{"values":[{"t":1},{"t":1.2},{"t":1.4},{"t":1.6}]},"mark":{"type":"rule","color":"black","strokeWidth":2,"x2Offset":6},"encoding":{"y":{"field":"t","type":"quantitative"},"x":{"datum":0,"type":"quantitative"},"x2":{"datum":0}}},
  {"data":{"values":[{"t":1},{"t":1.2},{"t":1.4},{"t":1.6}]},"mark":{"type":"rule","color":"black","strokeWidth":2,"x2Offset":-6},"encoding":{"y":{"field":"t","type":"quantitative"},"x":{"datum":0.1,"type":"quantitative"},"x2":{"datum":0.1}}},
  {"data":{"values":[{"t":1.1},{"t":1.3},{"t":1.5},{"t":1.7}]},"mark":{"type":"rule","color":"black","strokeWidth":2,"x2Offset":3},"encoding":{"y":{"field":"t","type":"quantitative"},"x":{"datum":0,"type":"quantitative"},"x2":{"datum":0}}},
  {"data":{"values":[{"t":1.1},{"t":1.3},{"t":1.5},{"t":1.7}]},"mark":{"type":"rule","color":"black","strokeWidth":2,"x2Offset":-3},"encoding":{"y":{"field":"t","type":"quantitative"},"x":{"datum":0.1,"type":"quantitative"},"x2":{"datum":0.1}}}
 ]},
 {"data":{"name":"l"},"mark":{"type":"point","filled":true,"opacity":0},"encoding":{
  "fill":{"field":"s","type":"nominal","scale":{"domain":["10x60","10x80","10x100","10x150","10x180","10x200","10x400","10x600"],"range":["#000000","#ff0000","#00ff00","#0000ff","#9400d3","#bc8f8f","#00ffff","#ff00ff"]},"legend":{"orient":"none","legendX":366.6,"legendY":15,"title":null,"symbolSize":484,"symbolOpacity":1,"symbolStrokeWidth":1,"labelOffset":6.4}},
  "stroke":{"field":"s","type":"nominal","scale":{"domain":["10x60","10x80","10x100","10x150","10x180","10x200","10x400","10x600"],"range":["#000000","#ff0000","#00ff00","#0000ff","#9400d3","#bc8f8f","#00ffff","#ff00ff"]}},
  "shape":{"field":"s","type":"nominal","scale":{"domain":["10x60","10x80","10x100","10x150","10x180","10x200","10x400","10x600"],"range":["M-1,0H1M-1.27,0a0.27,0.27 0 1,0 0.54,0a0.27,0.27 0 1,0 -0.54,0ZM0.73,0a0.27,0.27 0 1,0 0.54,0a0.27,0.27 0 1,0 -0.54,0Z","M-0.7,0H-0.61M-0.43,0H-0.34M-0.16,0H-0.07M0.11,0H0.2M0.38,0H0.47M0.65,0H0.73M-1.27,-0.27h0.54v0.54h-0.54ZM0.73,-0.27h0.54v0.54h-0.54Z","M-1,0H-0.64M-0.46,0H-0.1M0.08,0H0.44M0.62,0H1M-1,-0.32l0.32,0.32l-0.32,0.32l-0.32,-0.32ZM1,-0.32l0.32,0.32l-0.32,0.32l-0.32,-0.32Z","M-1,0H-0.36M-0.09,0H0.55M0.82,0H1M-1,-0.32l0.32,0.55h-0.64ZM1,-0.32l0.32,0.55h-0.64Z","M-1,0H-0.45M-0.27,0H-0.18M0,0H0.55M0.73,0H0.82M-1.32,0l0.55,-0.32v0.64ZM0.68,0l0.55,-0.32v0.64Z","M-1,0H-0.18M0.09,0H0.91M-1,0.32l0.32,-0.55h-0.64ZM1,0.32l0.32,-0.55h-0.64Z","M-1,0H-0.45M-0.27,0H-0.18M0,0H0.09M0.27,0H0.82M-0.68,0l-0.55,-0.32v0.64ZM1.32,0l-0.55,-0.32v0.64Z","M-1,0H-0.36M-0.18,0H-0.09M0.09,0H0.18M0.36,0H0.45M0.64,0H1M-1.3,0H-0.7M-1,-0.3V0.3M0.7,0H1.3M1,-0.3V0.3"]}}
 }}
]
},
{
"width":502,"height":342,
"title":{"text":"cosine","offset":2,"dx":-5.5},
"resolve":{"scale":{"x":"independent","y":"independent","fill":"independent","color":"independent","shape":"independent","stroke":"independent","strokeDash":"independent"},"axis":{"x":"independent","y":"independent"},"legend":{"fill":"independent","color":"independent","shape":"independent","stroke":"independent","strokeDash":"independent"}},
"layer":[
 {"data":{"name":"c"},"layer":[
  {"data":{"values":[{}]},"mark":{"type":"rule","color":"black","strokeWidth":1,"strokeDash":[6,4]},"encoding":{"x":{"datum":0,"type":"quantitative"},"x2":{"datum":0.06},"y":{"datum":1.5278,"type":"quantitative"}}},
  {"transform":[{"filter":"datum.m==1"}],"mark":{"type":"line","strokeWidth":1},"encoding":{
   "x":{"field":"x","type":"quantitative","scale":{"domain":[0,0.06],"range":[0,490],"nice":false,"zero":false},"axis":{"orient":"bottom","offset":-8,"tickSize":8,"labelPadding":5,"title":"1/k\u0302H","titleY":54,"values":[0,0.02,0.04,0.06]}},
   "y":{"field":"y","type":"quantitative","scale":{"domain":[1.524,1.55],"nice":false,"zero":false},"axis":{"orient":"left","offset":-8,"tickSize":8,"labelPadding":4,"title":"U*/V","titleX":-29.5,"titleY":182,"values":[1.53,1.54,1.55]}},
   "stroke":{"field":"s","type":"nominal","scale":{"domain":["10x80","10x100","10x120"],"range":["#000000","#ff0000","#00ff00"]},"legend":null},
   "strokeDash":{"field":"s","type":"nominal","scale":{"domain":["10x80","10x100","10x120"],"range":[[1,0],[1,3],[5,3]]},"legend":null}
  }},
  {"transform":[{"filter":"datum.m==1"}],"mark":{"type":"point","filled":true,"size":60,"opacity":1},"encoding":{
   "x":{"field":"x","type":"quantitative"},
   "y":{"field":"y","type":"quantitative"},
   "color":{"field":"s","type":"nominal","scale":{"domain":["10x80","10x100","10x120"],"range":["#000000","#ff0000","#00ff00"]},"legend":null},
   "shape":{"field":"s","type":"nominal","scale":{"domain":["10x80","10x100","10x120"],"range":["circle","square","diamond"]},"legend":null}
  }},
  {"data":{"values":[{}]},"mark":{"type":"rect","filled":false,"stroke":"black","strokeWidth":2},"encoding":{"x":{"datum":0,"type":"quantitative"},"x2":{"datum":0.06},"y":{"datum":1.524,"type":"quantitative"},"y2":{"datum":1.55}}},
  {"data":{"values":[{"t":0},{"t":0.02},{"t":0.04},{"t":0.06}]},"mark":{"type":"rule","color":"black","strokeWidth":2,"y2Offset":-8},"encoding":{"x":{"field":"t","type":"quantitative"},"y":{"datum":1.524,"type":"quantitative"},"y2":{"datum":1.524}}},
  {"data":{"values":[{"t":0},{"t":0.02},{"t":0.04},{"t":0.06}]},"mark":{"type":"rule","color":"black","strokeWidth":2,"y2Offset":8},"encoding":{"x":{"field":"t","type":"quantitative"},"y":{"datum":1.55,"type":"quantitative"},"y2":{"datum":1.55}}},
  {"data":{"values":[{"t":0.01},{"t":0.03},{"t":0.05}]},"mark":{"type":"rule","color":"black","strokeWidth":2,"y2Offset":-4},"encoding":{"x":{"field":"t","type":"quantitative"},"y":{"datum":1.524,"type":"quantitative"},"y2":{"datum":1.524}}},
  {"data":{"values":[{"t":0.01},{"t":0.03},{"t":0.05}]},"mark":{"type":"rule","color":"black","strokeWidth":2,"y2Offset":4},"encoding":{"x":{"field":"t","type":"quantitative"},"y":{"datum":1.55,"type":"quantitative"},"y2":{"datum":1.55}}},
  {"data":{"values":[{"t":1.53},{"t":1.54},{"t":1.55}]},"mark":{"type":"rule","color":"black","strokeWidth":2,"x2Offset":8},"encoding":{"y":{"field":"t","type":"quantitative"},"x":{"datum":0,"type":"quantitative"},"x2":{"datum":0}}},
  {"data":{"values":[{"t":1.53},{"t":1.54},{"t":1.55}]},"mark":{"type":"rule","color":"black","strokeWidth":2,"x2Offset":-8},"encoding":{"y":{"field":"t","type":"quantitative"},"x":{"datum":0.06,"type":"quantitative"},"x2":{"datum":0.06}}},
  {"data":{"values":[{"t":1.526},{"t":1.528},{"t":1.532},{"t":1.534},{"t":1.536},{"t":1.538},{"t":1.542},{"t":1.544},{"t":1.546},{"t":1.548}]},"mark":{"type":"rule","color":"black","strokeWidth":2,"x2Offset":4},"encoding":{"y":{"field":"t","type":"quantitative"},"x":{"datum":0,"type":"quantitative"},"x2":{"datum":0}}},
  {"data":{"values":[{"t":1.526},{"t":1.528},{"t":1.532},{"t":1.534},{"t":1.536},{"t":1.538},{"t":1.542},{"t":1.544},{"t":1.546},{"t":1.548}]},"mark":{"type":"rule","color":"black","strokeWidth":2,"x2Offset":-4},"encoding":{"y":{"field":"t","type":"quantitative"},"x":{"datum":0.06,"type":"quantitative"},"x2":{"datum":0.06}}}
 ]},
 {"data":{"name":"c"},"layer":[
  {"data":{"values":[{}]},"mark":{"type":"rect","fill":"white","stroke":"black","strokeWidth":1.5},"encoding":{"x":{"datum":0,"type":"quantitative"},"x2":{"datum":0.3},"y":{"datum":1.4,"type":"quantitative"},"y2":{"datum":1.6}}},
  {"data":{"values":[{}]},"mark":{"type":"rule","color":"black","strokeWidth":1,"strokeDash":[6,4]},"encoding":{"x":{"datum":0,"type":"quantitative"},"x2":{"datum":0.3},"y":{"datum":1.5278,"type":"quantitative"}}},
  {"mark":{"type":"line","strokeWidth":1},"encoding":{
   "x":{"field":"x","type":"quantitative","scale":{"domain":[0,0.3],"range":[49.1,266.7],"nice":false,"zero":false},"axis":{"orient":"bottom","offset":-176.7,"tickSize":6,"labelPadding":4,"title":null,"values":[0,0.1,0.2]}},
   "y":{"field":"y","type":"quantitative","scale":{"domain":[1.4,1.6],"range":[171.3,23.7],"nice":false,"zero":false},"axis":{"orient":"left","offset":-55.1,"tickSize":6,"labelPadding":4,"title":null,"values":[1.4,1.5,1.6]}},
   "stroke":{"field":"s","type":"nominal","scale":{"domain":["10x80","10x100","10x120"],"range":["#000000","#ff0000","#00ff00"]},"legend":null},
   "strokeDash":{"field":"s","type":"nominal","scale":{"domain":["10x80","10x100","10x120"],"range":[[1,0],[1,3],[5,3]]},"legend":null}
  }},
  {"mark":{"type":"point","filled":true,"size":45,"opacity":1},"encoding":{
   "x":{"field":"x","type":"quantitative"},
   "y":{"field":"y","type":"quantitative"},
   "color":{"field":"s","type":"nominal","scale":{"domain":["10x80","10x100","10x120"],"range":["#000000","#ff0000","#00ff00"]},"legend":null},
   "shape":{"field":"s","type":"nominal","scale":{"domain":["10x80","10x100","10x120"],"range":["circle","square","diamond"]},"legend":null}
  }},
  {"data":{"values":[{"t":0},{"t":0.1},{"t":0.2}]},"mark":{"type":"rule","color":"black","strokeWidth":2,"y2Offset":-6},"encoding":{"x":{"field":"t","type":"quantitative"},"y":{"datum":1.4,"type":"quantitative"},"y2":{"datum":1.4}}},
  {"data":{"values":[{"t":0},{"t":0.1},{"t":0.2}]},"mark":{"type":"rule","color":"black","strokeWidth":2,"y2Offset":6},"encoding":{"x":{"field":"t","type":"quantitative"},"y":{"datum":1.6,"type":"quantitative"},"y2":{"datum":1.6}}},
  {"data":{"values":[{"t":0.05},{"t":0.15},{"t":0.25}]},"mark":{"type":"rule","color":"black","strokeWidth":2,"y2Offset":-3},"encoding":{"x":{"field":"t","type":"quantitative"},"y":{"datum":1.4,"type":"quantitative"},"y2":{"datum":1.4}}},
  {"data":{"values":[{"t":0.05},{"t":0.15},{"t":0.25}]},"mark":{"type":"rule","color":"black","strokeWidth":2,"y2Offset":3},"encoding":{"x":{"field":"t","type":"quantitative"},"y":{"datum":1.6,"type":"quantitative"},"y2":{"datum":1.6}}},
  {"data":{"values":[{"t":1.4},{"t":1.5},{"t":1.6}]},"mark":{"type":"rule","color":"black","strokeWidth":2,"x2Offset":6},"encoding":{"y":{"field":"t","type":"quantitative"},"x":{"datum":0,"type":"quantitative"},"x2":{"datum":0}}},
  {"data":{"values":[{"t":1.4},{"t":1.5},{"t":1.6}]},"mark":{"type":"rule","color":"black","strokeWidth":2,"x2Offset":-6},"encoding":{"y":{"field":"t","type":"quantitative"},"x":{"datum":0.3,"type":"quantitative"},"x2":{"datum":0.3}}},
  {"data":{"values":[{"t":1.42},{"t":1.44},{"t":1.46},{"t":1.48},{"t":1.52},{"t":1.54},{"t":1.56},{"t":1.58}]},"mark":{"type":"rule","color":"black","strokeWidth":2,"x2Offset":3},"encoding":{"y":{"field":"t","type":"quantitative"},"x":{"datum":0,"type":"quantitative"},"x2":{"datum":0}}},
  {"data":{"values":[{"t":1.42},{"t":1.44},{"t":1.46},{"t":1.48},{"t":1.52},{"t":1.54},{"t":1.56},{"t":1.58}]},"mark":{"type":"rule","color":"black","strokeWidth":2,"x2Offset":-3},"encoding":{"y":{"field":"t","type":"quantitative"},"x":{"datum":0.3,"type":"quantitative"},"x2":{"datum":0.3}}}
 ]},
 {"data":{"name":"c"},"mark":{"type":"point","filled":true,"opacity":0},"encoding":{
  "fill":{"field":"s","type":"nominal","scale":{"domain":["10x80","10x100","10x120"],"range":["#000000","#ff0000","#00ff00"]},"legend":{"orient":"none","legendX":352.6,"legendY":171.3,"title":null,"symbolSize":484,"symbolOpacity":1,"symbolStrokeWidth":1,"labelOffset":9.4}},
  "stroke":{"field":"s","type":"nominal","scale":{"domain":["10x80","10x100","10x120"],"range":["#000000","#ff0000","#00ff00"]}},
  "shape":{"field":"s","type":"nominal","scale":{"domain":["10x80","10x100","10x120"],"range":["M-1.15,0H1.15M-1.51,0a0.36,0.36 0 1,0 0.72,0a0.36,0.36 0 1,0 -0.72,0ZM0.79,0a0.36,0.36 0 1,0 0.72,0a0.36,0.36 0 1,0 -0.72,0Z","M-0.7,0H-0.61M-0.43,0H-0.34M-0.16,0H-0.07M0.11,0H0.2M0.38,0H0.47M0.65,0H0.74M-1.5,-0.35h0.7v0.7h-0.7ZM0.8,-0.35h0.7v0.7h-0.7Z","M-0.75,0H-0.39M-0.21,0H0.15M0.33,0H0.69M-1.15,-0.42l0.42,0.42l-0.42,0.42l-0.42,-0.42ZM1.15,-0.42l0.42,0.42l-0.42,0.42l-0.42,-0.42Z"]}}
 }}
]
}
]
}
